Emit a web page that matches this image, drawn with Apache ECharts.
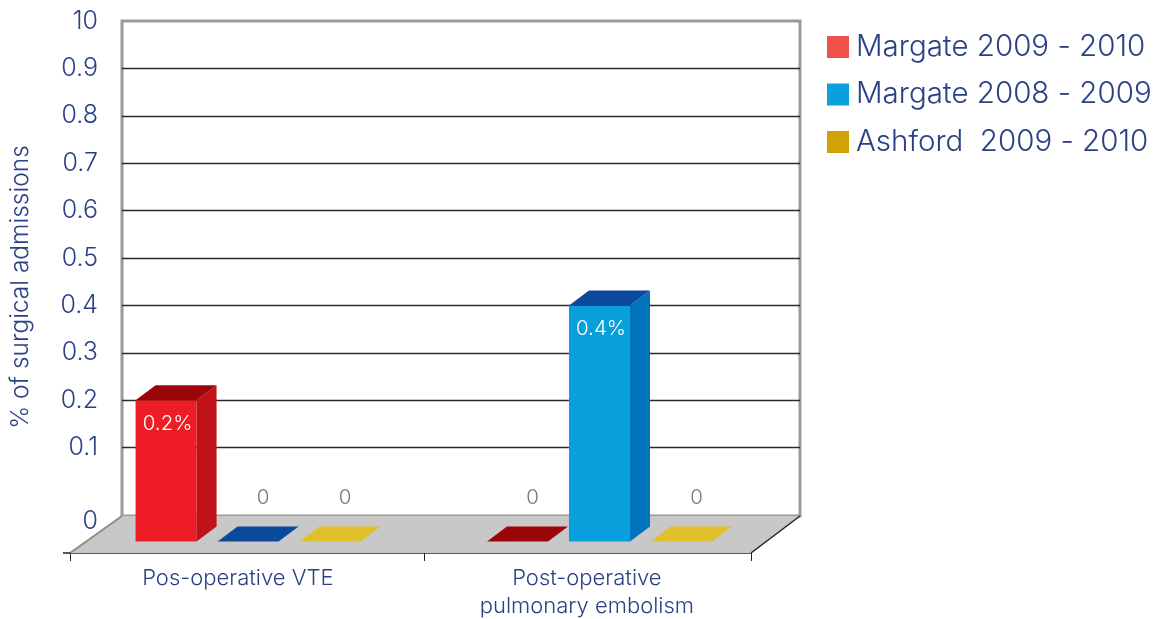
<!DOCTYPE html>
<html>
<head>
<meta charset="utf-8">
<style>html,body{margin:0;padding:0;background:#fff}#c{width:1157px;height:619px}</style>
<script src="https://cdn.jsdelivr.net/npm/echarts@6/dist/echarts.min.js"></script>
</head>
<body>
<div id="c"></div>
<script>
var categories = ['Pos-operative VTE', 'Post-operative\npulmonary embolism'];
var seriesNames = ['Margate 2009 - 2010', 'Margate 2008 - 2009', 'Ashford  2009 - 2010'];
var margate0910 = [0.2, 0];
var margate0809 = [0, 0.4];
var ashford0910 = [0, 0];
var yTickValues = [0.1, 0.2, 0.3, 0.4, 0.5, 0.6, 0.7, 0.8, 0.9];
var yLabelValues = [-0.055, 0.1, 0.2, 0.3, 0.4, 0.5, 0.6, 0.7, 0.8, 0.9, 1];
var yLabelTexts = ['0', '0.1', '0.2', '0.3', '0.4', '0.5', '0.6', '0.7', '0.8', '0.9', '10'];

var FONT = 'Inter';
var TEXT = '#2b4185';
var groupPos = [0.523, 1.555];
var labelPos = [0.493, 1.518];
var xTicks = [0, 1.04, 2];
var SLOT = 82, BAR_W = 61, DX = 20, DY = -15;
var BASE = -0.098, Y_MIN_BACK = -0.0443, Y_MIN_FRONT = -0.1224;

function barSeries(name, values, slot, col) {
  return {
    name: name,
    type: 'custom',
    xAxisIndex: 1,
    yAxisIndex: 1,
    z: 5,
    itemStyle: { color: col.front },
    data: values.map(function (v, i) { return [i, v]; }),
    encode: { x: 0, y: 1 },
    renderItem: function (params, api) {
      var i = api.value(0), v = api.value(1);
      var b = api.coord([groupPos[i], BASE]);
      var cx = b[0] + slot * SLOT;
      var L = cx - BAR_W / 2, R = cx + BAR_W / 2, yb = b[1];
      var yv = api.coord([groupPos[i], v])[1];
      var kids = [];
      var yt = v > 0 ? yv : yb;
      function poly(pts, fill) {
        kids.push({ type: 'polygon', shape: { points: pts }, style: { fill: fill } });
      }
      if (v > 0) {
        poly([[L, yb], [R, yb], [R, yt], [L, yt]], col.front);
        poly([[R, yb], [R + DX, yb + DY], [R + DX, yt + DY], [R, yt]], col.side);
      }
      poly([[L, yt], [R, yt], [R + DX, yt + DY], [L + DX, yt + DY]], v > 0 ? col.top : col.flat);
      kids.push({
        type: 'text',
        z2: 10,
        style: {
          text: v > 0 ? v + '%' : '0',
          x: v > 0 ? cx + 1.5 : cx + 15,
          y: v > 0 ? yt + 23.5 : yv + 3,
          align: 'center',
          verticalAlign: 'middle',
          fill: v > 0 ? '#ffffff' : '#777777',
          fontFamily: FONT,
          fontWeight: 300,
          fontSize: 20.5
        }
      });
      return { type: 'group', children: kids };
    }
  };
}

var floorSeries = {
  name: 'floor',
  type: 'custom',
  xAxisIndex: 1,
  yAxisIndex: 1,
  z: 3,
  silent: true,
  data: [[0, Y_MIN_FRONT]],
  renderItem: function (params, api) {
    var a = api.coord([0, Y_MIN_FRONT]), b = api.coord([2, Y_MIN_FRONT]);
    var al = [a[0] + 52, a[1] - 37], br = [b[0] + 49, b[1] - 37];
    return {
      type: 'group',
      children: [
        { type: 'polygon', shape: { points: [a, b, br, al] }, style: { fill: '#c8c8c8' } },
        { type: 'line', shape: { x1: a[0], y1: a[1], x2: al[0], y2: al[1] }, style: { stroke: '#8c8c8c', lineWidth: 2 } },
        { type: 'line', shape: { x1: b[0], y1: b[1], x2: br[0], y2: br[1] }, style: { stroke: '#222222', lineWidth: 1.5 } },
        { type: 'line', shape: { x1: a[0] - 7, y1: a[1], x2: a[0], y2: a[1] }, style: { stroke: '#222222', lineWidth: 1.5 } }
      ]
    };
  }
};

var chart = echarts.init(document.getElementById('c'), null, { renderer: 'canvas' });
chart.setOption({
  animation: false,
  backgroundColor: '#ffffff',
  grid: [
    { left: 122, right: 357, top: 21, bottom: 103, outerBoundsMode: 'none', containLabel: false, show: true, borderColor: '#9a9a9a', borderWidth: 3, backgroundColor: '#ffffff' },
    { left: 70, right: 406, top: 21, bottom: 66, outerBoundsMode: 'none', containLabel: false }
  ],
  xAxis: [
    { type: 'value', gridIndex: 0, min: 0, max: 1, show: false },
    {
      type: 'value', gridIndex: 1, min: 0, max: 2, position: 'bottom',
      splitLine: { show: false },
      axisLine: { show: true, onZero: false, lineStyle: { color: '#222222', width: 1.5 } },
      axisTick: { show: true, length: 8, customValues: xTicks, lineStyle: { color: '#222222', width: 1 } },
      axisLabel: {
        show: true,
        customValues: labelPos,
        margin: 11,
        lineHeight: 28,
        color: TEXT,
        fontFamily: FONT,
        fontWeight: 300,
        fontSize: 22,
        formatter: function (v) { return categories[v < 1 ? 0 : 1]; }
      }
    }
  ],
  yAxis: [
    {
      type: 'value', gridIndex: 0, min: Y_MIN_BACK, max: 1,
      axisLine: { show: false },
      axisLabel: { show: false },
      axisTick: { show: false, customValues: yTickValues },
      splitLine: { show: true, lineStyle: { color: '#2a2a2a', width: 1.3 } }
    },
    {
      type: 'value', gridIndex: 1, min: Y_MIN_FRONT, max: 1, position: 'left', offset: -52,
      name: '% of surgical admissions',
      nameLocation: 'middle',
      nameGap: 89,
      nameRotate: 90,
      nameTextStyle: { color: TEXT, fontFamily: FONT, fontWeight: 300, fontSize: 24.5 },
      axisLine: { show: false, onZero: false },
      axisTick: { show: false },
      splitLine: { show: false },
      axisLabel: {
        show: true,
        customValues: yLabelValues,
        margin: 24,
        color: TEXT,
        fontFamily: FONT,
        fontWeight: 300,
        fontSize: 25,
        formatter: function (v) {
          var idx = yLabelValues.indexOf(v);
          return idx >= 0 ? yLabelTexts[idx] : '';
        }
      }
    }
  ],
  legend: {
    orient: 'vertical',
    left: 827,
    top: 32,
    padding: 0,
    itemWidth: 22,
    itemHeight: 22,
    itemGap: 17.5,
    icon: 'rect',
    selectedMode: false,
    textStyle: { color: TEXT, fontFamily: FONT, fontWeight: 300, fontSize: 29.5, padding: [2, 0, 0, 2] },
    data: [
      { name: seriesNames[0], itemStyle: { color: '#f0524b' } },
      { name: seriesNames[1], itemStyle: { color: '#09a0dc' } },
      { name: seriesNames[2], itemStyle: { color: '#cfa206' } }
    ]
  },
  series: [
    floorSeries,
    barSeries(seriesNames[0], margate0910, -1, { front: '#ee1c25', side: '#c11219', top: '#9b0509', flat: '#9b0509' }),
    barSeries(seriesNames[1], margate0809, 0, { front: '#079fdc', side: '#0272ba', top: '#0b4a9b', flat: '#0b4a9b' }),
    barSeries(seriesNames[2], ashford0910, 1, { front: '#e0c02b', side: '#b89a1e', top: '#e0c02b', flat: '#e0c02b' })
  ]
});
</script>
</body>
</html>
